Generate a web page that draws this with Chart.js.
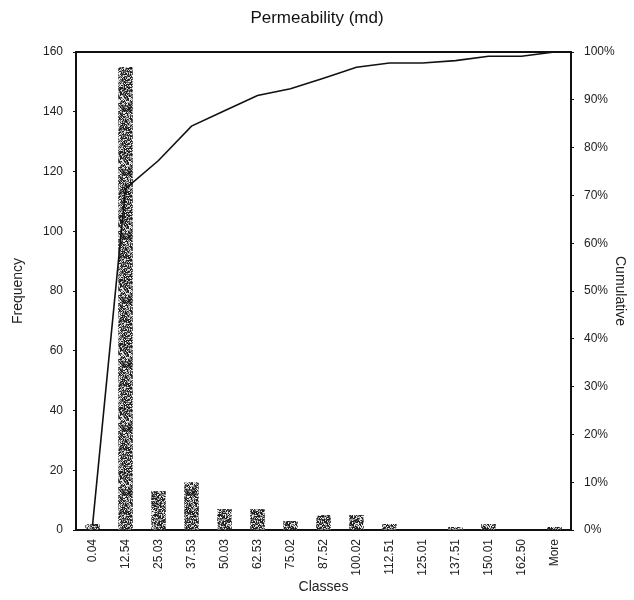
<!DOCTYPE html>
<html>
<head>
<meta charset="utf-8">
<script src="https://cdn.jsdelivr.net/npm/chart.js@4/dist/chart.umd.min.js"></script>
<style>
  html, body { margin: 0; padding: 0; background: #fff; }
  #wrap { width: 634px; height: 600px; }
</style>
</head>
<body>
<div id="wrap"><canvas id="c" width="634" height="600"></canvas></div>
<script>
// Histogram classes (upper bin limits, md)
const classes = ['0.04', '12.54', '25.03', '37.53', '50.03', '62.53', '75.02', '87.52',
                 '100.02', '112.51', '125.01', '137.51', '150.01', '162.50', 'More'];
// Count of samples per class
const frequency = [2, 155, 13, 16, 7, 7, 3, 5, 5, 2, 0, 1, 2, 0, 1];
// Cumulative percentage at each class
const cumulative = [0.9, 71.4, 77.3, 84.5, 87.7, 90.9, 92.3, 94.5, 96.8, 97.7, 97.7, 98.2, 99.1, 99.1, 100];
// Axis ticks
const freqTicks = [0, 20, 40, 60, 80, 100, 120, 140, 160];
const pctTicks = [0, 10, 20, 30, 40, 50, 60, 70, 80, 90, 100];

const FONT = '"Liberation Sans", Arial, sans-serif';

// Speckled grey fill for the bars, built from a deterministic hash
function speckle() {
  const size = 64;
  const cv = document.createElement('canvas');
  cv.width = size; cv.height = size;
  const g = cv.getContext('2d');
  const img = g.createImageData(size, size);
  for (let y = 0; y < size; y++) {
    for (let x = 0; x < size; x++) {
      let h = (x * 374761393 + y * 668265263) | 0;
      h = Math.imul(h ^ (h >>> 13), 1274126177);
      h = (h ^ (h >>> 16)) >>> 0;
      const t = (h % 1000) / 1000;
      let v;
      if (t < 0.38) v = 30;
      else if (t < 0.62) v = 95;
      else if (t < 0.82) v = 165;
      else v = 235;
      const i = (y * size + x) * 4;
      img.data[i] = v; img.data[i + 1] = v; img.data[i + 2] = v; img.data[i + 3] = 255;
    }
  }
  g.putImageData(img, 0, 0);
  return g.createPattern(cv, 'repeat');
}

// Closes the plot frame along the top edge
const frameTop = {
  id: 'frameTop',
  afterDatasetsDraw(chart) {
    const { ctx, chartArea } = chart;
    ctx.save();
    ctx.strokeStyle = '#111';
    ctx.lineWidth = 2;
    ctx.beginPath();
    ctx.moveTo(chartArea.left, chartArea.top);
    ctx.lineTo(chartArea.right, chartArea.top);
    ctx.stroke();
    ctx.restore();
  }
};

const ctx = document.getElementById('c').getContext('2d');
const barFill = speckle();

new Chart(ctx, {
  data: {
    labels: classes,
    datasets: [
      {
        type: 'line',
        label: 'Cumulative %',
        data: cumulative,
        yAxisID: 'y1',
        borderColor: '#111',
        borderWidth: 1.6,
        pointRadius: 0,
        tension: 0,
        fill: false,
        order: 0
      },
      {
        type: 'bar',
        label: 'Frequency',
        data: frequency,
        yAxisID: 'y',
        backgroundColor: barFill,
        borderWidth: 0,
        categoryPercentage: 1,
        barPercentage: 0.44,
        order: 1
      }
    ]
  },
  options: {
    responsive: false,
    animation: false,
    layout: { padding: 0 },
    plugins: {
      legend: { display: false },
      tooltip: { enabled: false },
      title: {
        display: true,
        text: 'Permeability (md)',
        color: '#111',
        font: { family: FONT, size: 17, weight: 'normal' },
        padding: { top: 8, bottom: 23.6 }
      }
    },
    scales: {
      x: {
        grid: { display: false, drawTicks: false },
        border: { display: true, color: '#111', width: 2 },
        ticks: {
          color: '#222',
          font: { family: FONT, size: 12 },
          minRotation: 90,
          maxRotation: 90,
          padding: 9,
          autoSkip: false
        },
        title: {
          display: true,
          text: 'Classes',
          color: '#222',
          font: { family: FONT, size: 14 },
          padding: { top: 2, bottom: 4 }
        },
        afterFit(scale) { scale.height = 70; }
      },
      y: {
        position: 'left',
        min: 0,
        max: 160,
        afterBuildTicks(scale) { scale.ticks = freqTicks.map(v => ({ value: v })); },
        grid: { display: true, drawOnChartArea: false, tickLength: 3, color: '#111' },
        border: { display: true, color: '#111', width: 2 },
        ticks: {
          color: '#222',
          font: { family: FONT, size: 12 },
          padding: 10
        },
        title: {
          display: true,
          text: 'Frequency',
          color: '#222',
          font: { family: FONT, size: 14 },
          padding: { top: 10, bottom: 0 }
        },
        afterFit(scale) { scale.width = 76; }
      },
      y1: {
        position: 'right',
        min: 0,
        max: 100,
        afterBuildTicks(scale) { scale.ticks = pctTicks.map(v => ({ value: v })); },
        grid: { display: true, drawOnChartArea: false, tickLength: 3, color: '#111' },
        border: { display: true, color: '#111', width: 2 },
        ticks: {
          color: '#222',
          font: { family: FONT, size: 12 },
          padding: 10,
          callback: v => v + '%'
        },
        title: {
          display: true,
          text: 'Cumulative',
          color: '#222',
          font: { family: FONT, size: 14 },
          padding: { top: 6, bottom: 0 }
        },
        afterFit(scale) { scale.width = 63; }
      }
    }
  },
  plugins: [frameTop]
});
</script>
</body>
</html>
